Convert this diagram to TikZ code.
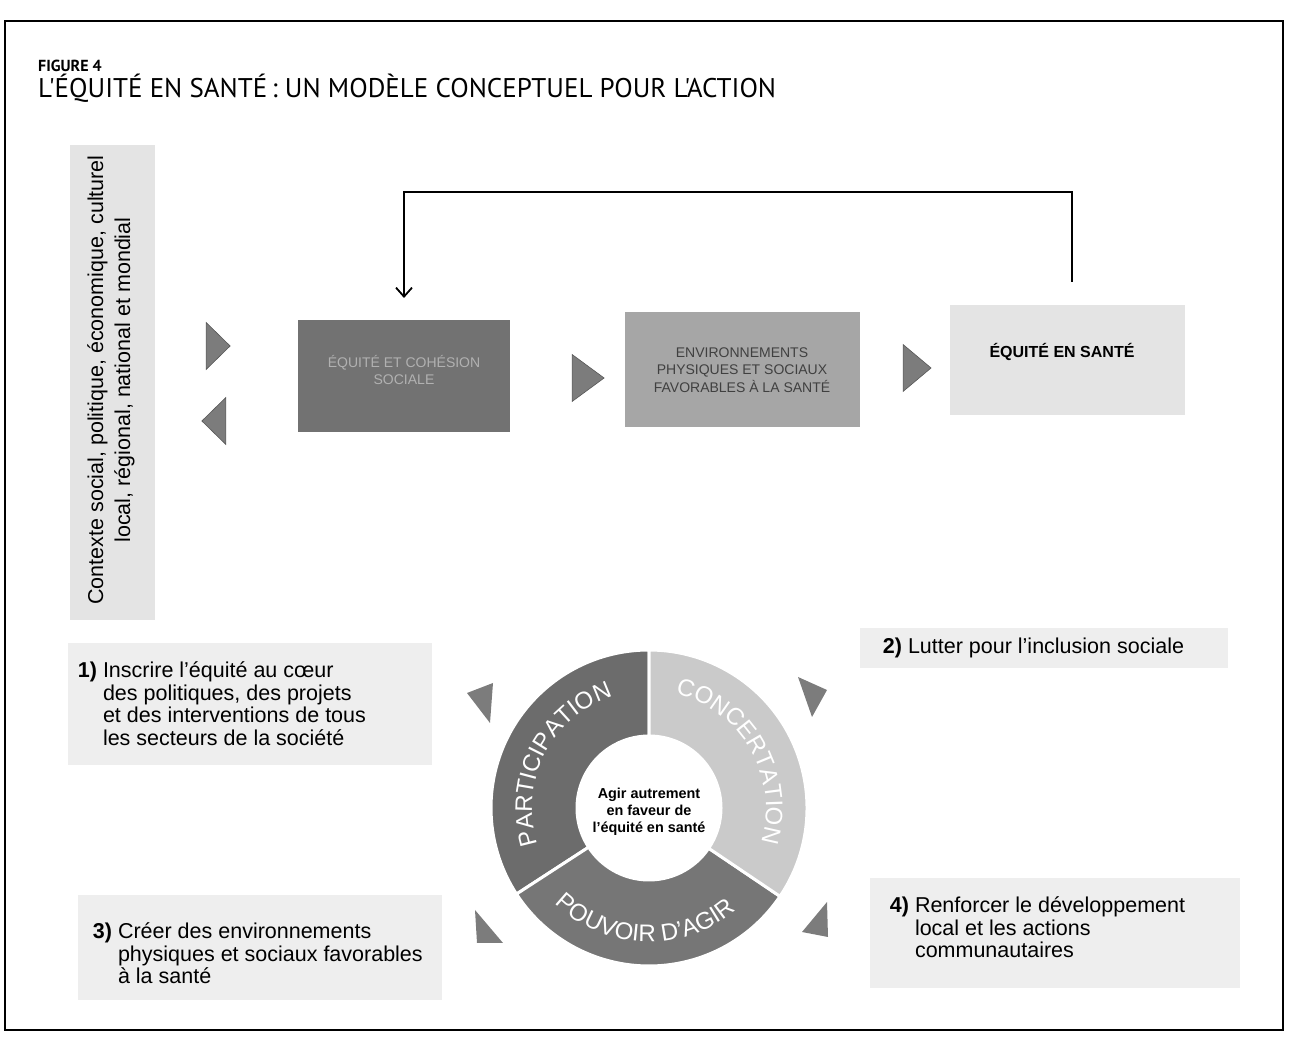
\documentclass[tikz,border=0pt]{standalone}
\usepackage{fontspec}
\setmainfont{Liberation Sans}
\newfontfamily\titlefont{PT Sans}
\usetikzlibrary{shapes.geometric}
\usetikzlibrary{arrows.meta}
\usetikzlibrary{decorations.text}
\definecolor{boxdark}{HTML}{727272}
\definecolor{boxmid}{HTML}{A6A6A6}
\definecolor{boxlight}{HTML}{E4E4E4}
\definecolor{paper}{HTML}{EEEEEE}
\definecolor{pointergray}{HTML}{7C7C7C}
\definecolor{ringdark}{HTML}{6C6C6C}
\definecolor{ringmid}{HTML}{767676}
\definecolor{ringlight}{HTML}{CACACA}
\newcommand{\bodysize}{\fontsize{21.5}{22.5}\selectfont}
\newcommand{\capsize}{\fontsize{14}{17.5}\selectfont}
\newcommand{\ringtext}[1]{|\fontsize{24}{24}\selectfont|#1}
\tikzstyle{stepbox}=[rectangle, inner sep=0, outer sep=0, align=center]
\tikzstyle{pointer}=[isosceles triangle, isosceles triangle stretches, fill=pointergray,
                     draw=pointergray!70!black, line width=0.6pt, inner sep=0, outer sep=0,
                     minimum width=47pt]
\tikzstyle{action}=[anchor=north west, align=left, inner sep=0, outer sep=0, font=\bodysize]
\tikzstyle{feedback}=[line width=1.8pt, -{Straight Barb[length=9pt, width=16pt, line width=1.8pt]}]
\tikzstyle{ringlabel}=[decorate, decoration={text along path, text align=center}]

\begin{document}
\begin{tikzpicture}[x=1pt, y=1pt]
    \useasboundingbox (0,0) rectangle (1290,1046);
    \draw[line width=1.4pt] (5,16) rectangle (1283,1025);
    % title
    \node[anchor=base west, inner sep=0] (fig) at (38,974) {\titlefont\bfseries\fontsize{16}{16}\selectfont FIGURE 4};
    \node[anchor=base west, inner sep=0] (title) at (38,948)
        {\titlefont\fontsize{27}{27}\selectfont L'ÉQUITÉ EN SANTÉ\,: UN MODÈLE CONCEPTUEL POUR L'ACTION};
    % context
    \fill[boxlight] (70,426) rectangle (155,901);
    \node[rotate=90, align=center, font=\fontsize{21.5}{27}\selectfont] (context) at (111,666)
        {Contexte social, politique, économique, culturel\\local, régional, national et mondial};
    \node[pointer] (cin) at (216,700) [minimum height=24pt] {};
    \node[pointer, shape border rotate=180] (cout) at (216,625) [minimum height=24pt] {};
    % chain
    \node[stepbox, fill=boxdark, minimum width=212pt, minimum height=112pt] (box1) at (404,670) {};
    \node[stepbox, text=boxdark!55!white, font=\capsize] (box1txt) at (404,676) {ÉQUITÉ ET COHÉSION\\SOCIALE};
    \node[pointer] (p12) at (584,668) [minimum height=32pt] {};
    \node[stepbox, fill=boxmid, minimum width=235pt, minimum height=115pt, text=black!75, font=\capsize] (box2) at (742,676)
        {ENVIRONNEMENTS\\PHYSIQUES ET SOCIAUX\\FAVORABLES À LA SANTÉ};
    \node[pointer] (p23) at (914,678) [minimum height=28pt] {};
    \node[stepbox, fill=boxlight, minimum width=235pt, minimum height=110pt] (box3) at (1067,686) {};
    \node[stepbox, font=\bfseries\fontsize{16}{16}\selectfont] (box3txt) at (1062,694) {ÉQUITÉ EN SANTÉ};
    \draw[feedback] ([xshift=5pt, yshift=23pt]box3.north) -- ++(0,90) -| ([yshift=22pt]box1.north);
    % ring
    \begin{scope}[shift={(649,238)}]
        \filldraw[ringdark, draw=white, line width=3pt] (90:158) arc[start angle=90, end angle=213, radius=158]
            -- (213:72) arc[start angle=213, end angle=90, radius=72] -- cycle;
        \filldraw[ringmid, draw=white, line width=3pt] (213:158) arc[start angle=213, end angle=326, radius=158]
            -- (326:72) arc[start angle=326, end angle=213, radius=72] -- cycle;
        \filldraw[ringlight, draw=white, line width=3pt] (-34:158) arc[start angle=-34, end angle=90, radius=158]
            -- (90:72) arc[start angle=90, end angle=-34, radius=72] -- cycle;
        \path[ringlabel, decoration={text color=white, text={\ringtext{PARTICIPATION}}}]
            (210:117) arc[start angle=210, end angle=96, radius=117];
        \path[ringlabel, decoration={text color=white, text={\ringtext{CONCERTATION}}}]
            (87:117) arc[start angle=87, end angle=-27, radius=117];
        \path[ringlabel, decoration={text color=white, text={\ringtext{POUVOIR D'AGIR}}}]
            (212:134) arc[start angle=212, end angle=324, radius=134];
    \end{scope}
    \node[align=center, font=\bfseries\fontsize{14.4}{17}\selectfont] (centre) at (649,234)
        {Agir autrement\\en faveur de\\l'équité en santé};
    \fill[pointergray] (467,353) -- (493,363) -- (490,323) -- cycle;
    \fill[pointergray] (798,369) -- (827,356) -- (812,329) -- cycle;
    \fill[pointergray] (475,136) -- (503,103) -- (477,103) -- cycle;
    \fill[pointergray] (827,144) -- (828,109) -- (802,114) -- cycle;
    % actions
    \fill[paper] (68,281) rectangle (432,403);
    \node[action] (act1) at (103,384)
        {\llap{\textbf{1)} }Inscrire l'équité au cœur\\des politiques, des projets\\et des interventions de tous\\les secteurs de la société};
    \fill[paper] (860,378) rectangle (1228,418);
    \node[action] (act2) at (908,408) {\llap{\textbf{2)} }Lutter pour l'inclusion sociale};
    \fill[paper] (78,46) rectangle (442,151);
    \node[action] (act3) at (118,123)
        {\llap{\textbf{3)} }Créer des environnements\\physiques et sociaux favorables\\à la santé};
    \fill[paper] (870,58) rectangle (1240,168);
    \node[action] (act4) at (915,149)
        {\llap{\textbf{4)} }Renforcer le développement\\local et les actions\\communautaires};
\end{tikzpicture}
\end{document}
